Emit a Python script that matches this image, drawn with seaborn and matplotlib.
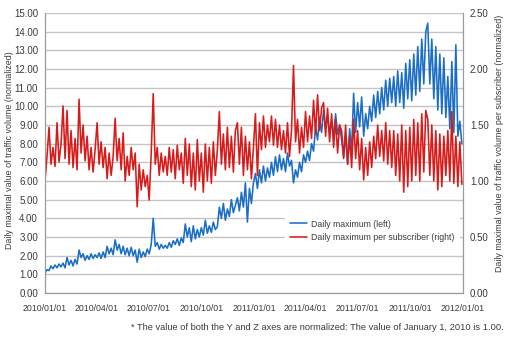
import matplotlib
matplotlib.use("Agg")
import matplotlib.pyplot as plt
import seaborn as sns
import pandas as pd

# Readings taken twice a week (every 3.5 days) from 2010/01/01 to 2011/12/30
start_date = "2010-01-01"
n_points = 209

# Daily maximum traffic volume, normalized (left axis)
daily_max = [
    # 2010
    1.05, 1.25, 1.20, 1.45, 1.30, 1.50, 1.35, 1.55, 1.40,
    1.60, 1.35, 1.90, 1.50, 1.75, 1.45, 1.80, 1.55,
    2.30, 1.90, 2.10, 1.75, 2.00, 1.80, 2.10, 1.85, 2.05,
    1.90, 2.15, 1.85, 2.20, 1.90, 2.50, 2.10, 2.40, 2.05,
    2.85, 2.30, 2.60, 2.10, 2.50, 2.05, 2.40, 2.00,
    2.45, 2.00, 2.30, 1.65, 2.35, 1.90, 2.20, 1.95, 2.35,
    2.10, 2.60, 4.00, 2.50, 2.70, 2.35, 2.60, 2.40, 2.55,
    2.40, 2.70, 2.45, 2.80, 2.60, 2.90, 2.55, 2.95, 2.70,
    3.70, 3.00, 3.50, 2.75, 3.60, 2.90, 3.40, 3.00,
    3.50, 3.10, 3.90, 3.20, 3.60, 3.25, 3.80, 3.40, 3.55,
    4.60, 4.00, 4.80, 3.90, 4.50, 4.10, 5.00, 4.30, 4.70,
    5.10, 4.40, 5.40, 4.60, 5.90, 3.80, 5.60, 4.80, 5.90,
    # 2011
    6.40, 5.60, 6.60, 5.90, 6.80, 6.00, 6.70, 6.20,
    7.00, 6.30, 7.30, 6.50, 7.40, 6.60, 7.20, 6.50,
    7.50, 6.80, 7.10, 5.90, 6.60, 6.20, 7.00, 6.50, 7.40,
    7.00, 7.60, 7.10, 8.00, 7.60, 8.90, 8.20, 9.40, 8.60,
    9.80, 8.80, 9.50, 8.60, 9.20, 8.40, 9.60, 8.50, 9.00,
    8.20, 7.30, 8.40, 6.90, 8.80, 7.60, 10.70, 8.60,
    10.20, 8.90, 10.50, 8.40, 9.60, 8.80, 10.00, 9.20, 10.60,
    9.40, 10.80, 9.60, 11.00, 9.80, 11.40, 10.00, 11.50, 10.20,
    11.60, 10.00, 11.90, 10.20, 11.80, 9.90, 12.30, 10.40,
    12.50, 10.30, 12.80, 10.60, 13.20, 10.80, 13.60, 11.20, 14.00,
    14.45, 11.20, 13.60, 10.40, 13.20, 9.80, 12.80, 9.60, 12.60,
    9.40, 11.60, 8.80, 12.40, 8.60, 13.30, 8.40, 9.20, 8.00,
]

# Daily maximum traffic volume per subscriber, normalized (right axis)
per_subscriber = [
    # 2010
    1.00, 1.22, 1.48, 1.15, 1.30, 1.13, 1.52, 1.17, 1.33,
    1.67, 1.20, 1.63, 1.15, 1.45, 1.12, 1.38, 1.10,
    1.73, 1.25, 1.50, 1.18, 1.40, 1.10, 1.30, 1.08, 1.28,
    1.52, 1.15, 1.35, 1.12, 1.30, 1.02, 1.25, 1.05, 1.22,
    1.56, 1.18, 1.38, 1.10, 1.43, 1.00, 1.22, 1.05,
    1.30, 1.10, 1.25, 0.77, 1.15, 0.92, 1.10, 0.95, 1.05,
    0.83, 1.25, 1.78, 1.15, 1.30, 1.05, 1.25, 1.08, 1.22,
    1.05, 1.30, 1.08, 1.28, 1.02, 1.32, 1.10, 1.25, 0.98,
    1.38, 1.05, 1.33, 0.95, 1.25, 0.92, 1.37, 1.00,
    1.25, 0.90, 1.33, 1.00, 1.30, 0.98, 1.35, 1.05, 1.28,
    1.62, 1.15, 1.42, 1.10, 1.48, 1.12, 1.40, 1.08, 1.45,
    1.52, 1.15, 1.48, 1.05, 1.40, 1.10, 1.35, 1.02, 1.30,
    # 2011
    1.60, 1.05, 1.52, 1.28, 1.58, 1.30, 1.50, 1.35,
    1.58, 1.32, 1.55, 1.30, 1.50, 1.28, 1.45, 1.25,
    1.52, 1.22, 1.45, 2.03, 1.35, 1.55, 1.25, 1.48, 1.30,
    1.62, 1.35, 1.58, 1.38, 1.72, 1.42, 1.77, 1.45, 1.65,
    1.70, 1.40, 1.65, 1.35, 1.60, 1.30, 1.55, 1.25, 1.50,
    1.45, 1.20, 1.50, 1.15, 1.40, 1.12, 1.55, 1.20,
    1.45, 1.10, 1.38, 1.01, 1.30, 1.05, 1.35, 1.12, 1.40,
    1.20, 1.50, 1.22, 1.45, 1.18, 1.52, 1.15, 1.45, 1.12,
    1.45, 1.05, 1.42, 1.00, 1.50, 0.90, 1.45, 0.95,
    1.48, 1.00, 1.55, 1.05, 1.52, 1.00, 1.60, 1.08, 1.63,
    1.55, 1.05, 1.50, 1.00, 1.45, 0.92, 1.42, 0.95, 1.40,
    1.05, 1.45, 1.00, 1.62, 0.98, 1.40, 0.95, 1.35, 0.97,
]

x_tick_labels = ["2010/01/01", "2010/04/01", "2010/07/01", "2010/10/01",
                 "2011/01/01", "2011/04/01", "2011/07/01", "2011/10/01",
                 "2012/01/01"]
left_ticks = [0, 1, 2, 3, 4, 5, 6, 7, 8, 9, 10, 11, 12, 13, 14, 15]
right_ticks = [0.0, 0.5, 1.0, 1.5, 2.0, 2.5]

label_left = "Daily maximum (left)"
label_right = "Daily maximum per subscriber (right)"
ylabel_left = "Daily maximal value of traffic volume (normalized)"
ylabel_right = "Daily maximal value of traffic volume per subscriber (normalized)"
footnote = "* The value of both the Y and Z axes are normalized: The value of January 1, 2010 is 1.00."

dates = pd.date_range(start_date, periods=n_points, freq="84h")
df = pd.DataFrame({"date": dates, "total": daily_max, "per_sub": per_subscriber})

sns.set_style("white")
plt.rcParams["font.family"] = ["Liberation Sans", "DejaVu Sans"]
text_color = "#3a3a3a"
grid_color = "#c4c4c4"
spine_color = "#9a9a9a"
blue = "#1a6ec4"
red = "#d91a1a"

W, H = 510, 338
fig = plt.figure(figsize=(W / 100, H / 100), dpi=100)
ax = fig.add_axes([45 / W, 1 - 293 / H, 418 / W, 280 / H])
ax2 = ax.twinx()

sns.lineplot(data=df, x="date", y="total", ax=ax, color=blue, lw=1.15, label=label_left, legend=False)
sns.lineplot(data=df, x="date", y="per_sub", ax=ax2, color=red, lw=1.15, label=label_right, legend=False)

ax.set_ylim(0, 15)
ax2.set_ylim(0, 2.5)
ax.set_yticks(left_ticks)
ax.set_yticklabels([f"{v:.2f}" for v in left_ticks])
ax2.set_yticks(right_ticks)
ax2.set_yticklabels([f"{v:.2f}" for v in right_ticks])

tick_dates = pd.to_datetime([s.replace("/", "-") for s in x_tick_labels])
ax.set_xlim(tick_dates[0], tick_dates[-1])
ax.set_xticks(tick_dates)
ax.set_xticklabels(x_tick_labels)

ax.grid(axis="y", color=grid_color, lw=1.0)
ax.set_axisbelow(True)
ax2.grid(False)

for a in (ax, ax2):
    a.spines["top"].set_visible(False)
    for side in ("left", "right", "bottom"):
        a.spines[side].set_color(spine_color)
    a.set_xlabel("")
    a.set_ylabel("")

ax.tick_params(axis="x", direction="out", length=3, color=spine_color, labelsize=6.3, labelcolor=text_color, pad=5)
ax.tick_params(axis="y", length=0, labelsize=7, labelcolor=text_color, pad=5)
ax2.tick_params(axis="y", length=0, labelsize=7, labelcolor=text_color, pad=5)

# Axis titles placed directly in figure coordinates
fig.text(10 / W, 1 - 150 / H, ylabel_left, rotation=90, ha="center", va="center",
         fontsize=6.4, color=text_color)
fig.text(500 / W, 1 - 143 / H, ylabel_right, rotation=90, ha="center", va="center",
         fontsize=6.4, color=text_color)

handles = ax.get_lines()[:1] + ax2.get_lines()[:1]
leg = ax2.legend(handles, [label_left, label_right], loc="upper left",
                 bbox_to_anchor=(0.563, 0.297), frameon=True, fontsize=6.35,
                 handlelength=1.95, handletextpad=0.45, labelspacing=0.48,
                 borderpad=0.6, labelcolor=text_color)
leg.get_frame().set_facecolor("white")
leg.get_frame().set_edgecolor("none")
leg.get_frame().set_alpha(1)

fig.text(0.987, 1 - 328 / H, footnote, ha="right", va="center", fontsize=6.7, color=text_color)

fig.savefig("out.png", dpi=100)
